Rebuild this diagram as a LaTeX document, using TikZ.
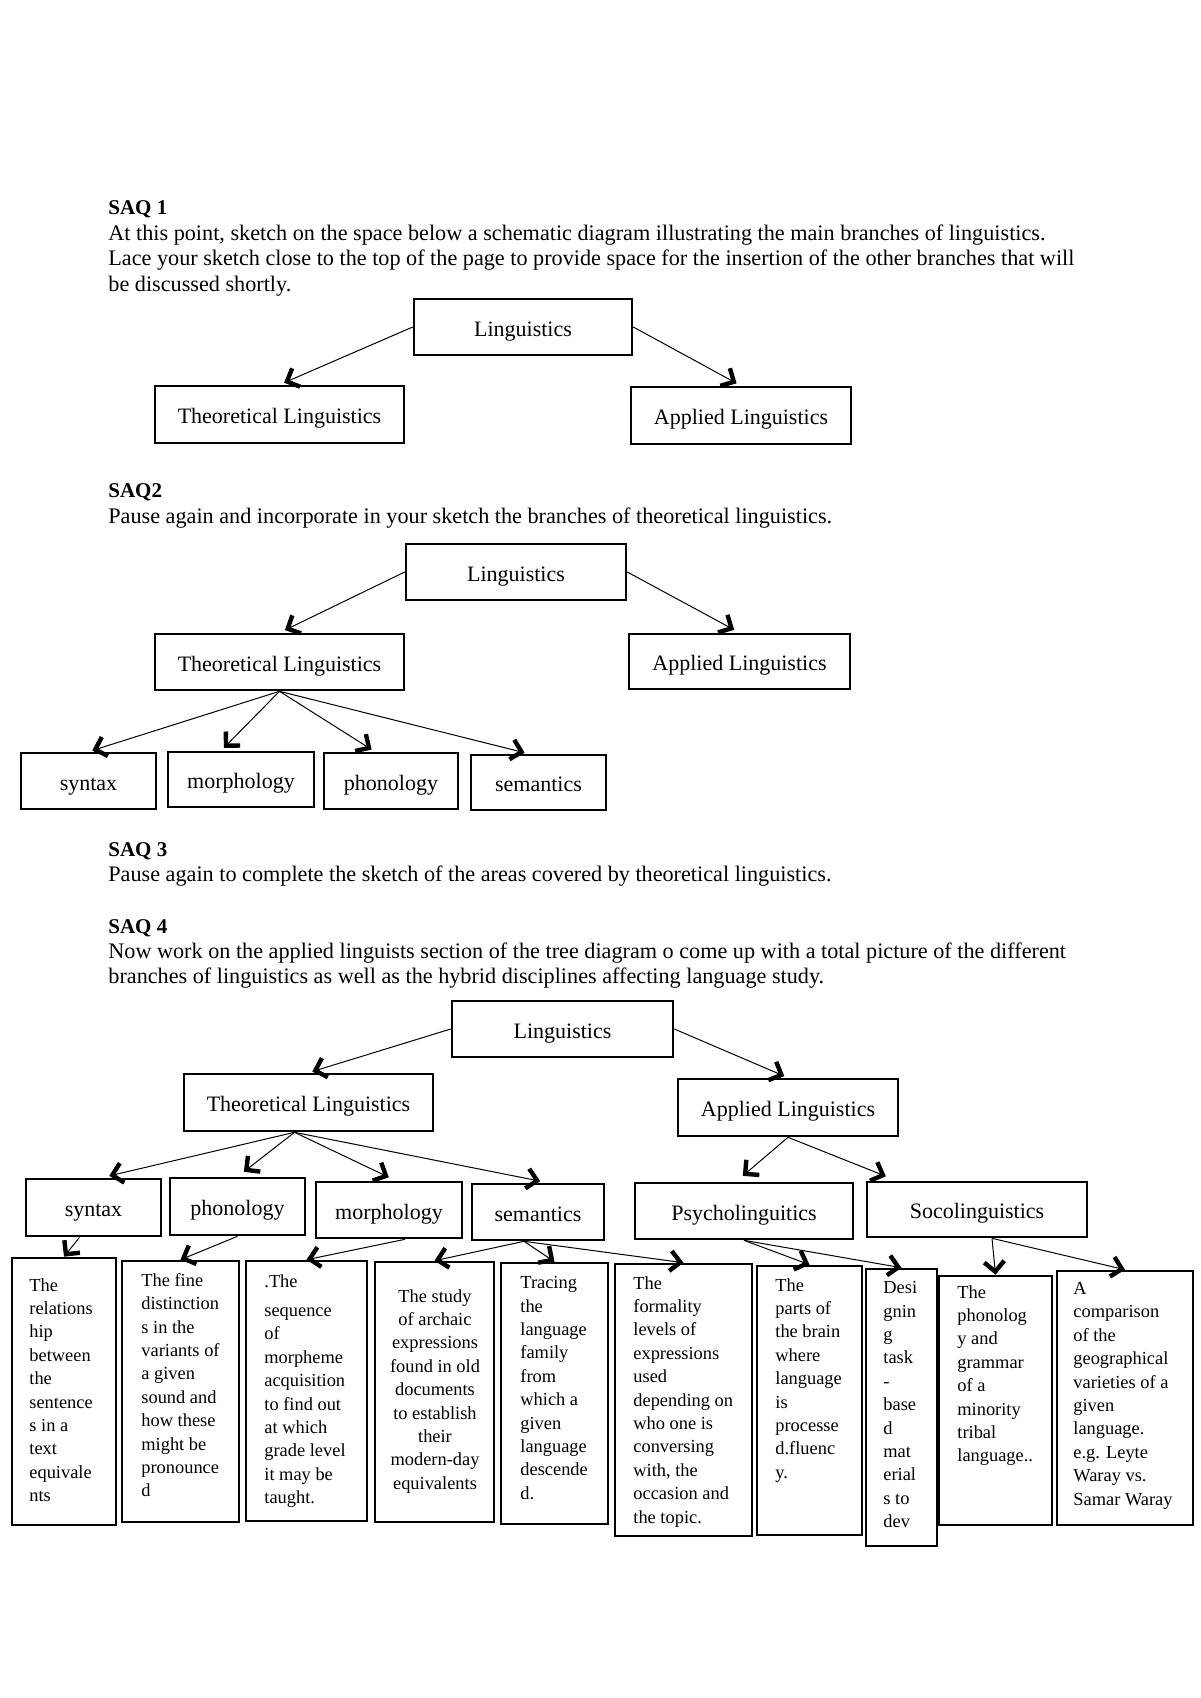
\documentclass[tikz,border=0pt]{standalone}
\usepackage{fontspec}
\setmainfont{Liberation Serif}
\usetikzlibrary{arrows.meta}
\tikzset{
  body/.style={inner sep=0, anchor=base west, font=\fontsize{11.1}{13}\selectfont},
  head/.style={inner sep=0, anchor=base west, font=\fontsize{10.5}{13}\selectfont\bfseries},
  lbox/.style={draw, line width=1.3pt, inner sep=0, text height=9pt, text depth=0pt, font=\fontsize{11}{13}\selectfont},
  dbox/.style={draw, line width=1.3pt, inner sep=0},
  dtxt/.style={inner sep=0, anchor=north west, align=left, font=\fontsize{9.2}{11.7}\selectfont},
  conn/.style={line width=0.5pt, -{Straight Barb[length=5pt,width=10pt,line width=2.2pt]}},
}
\newcommand\mkbox[7]{\node[#7, minimum width={(#4-#2)*0.5pt}, minimum height={(#5-#3)*0.5pt}] (#1) at ({(#2+#4)/2},{(#3+#5)/2}) {#6};}
\begin{document}
\begin{tikzpicture}[x=0.5pt,y=-0.5pt]
\useasboundingbox (0,0) rectangle (1200,1698);
% ---------- texts
\node[head] (h1) at (108,214) {SAQ 1};
\node[body] (t11) at (108,240) {At this point, sketch on the space below a schematic diagram illustrating the main branches of linguistics.};
\node[body] (t12) at (108,265) {Lace your sketch close to the top of the page to provide space for the insertion of the other branches that will};
\node[body] (t13) at (108,291) {be discussed shortly.};
\node[head] (h2) at (108,497) {SAQ2};
\node[body] (t21) at (108,523) {Pause again and incorporate in your sketch the branches of theoretical linguistics.};
\node[head] (h3) at (108,856) {SAQ 3};
\node[body] (t31) at (108,881) {Pause again to complete the sketch of the areas covered by theoretical linguistics.};
\node[head] (h4) at (108,933) {SAQ 4};
\node[body] (t41) at (108,958) {Now work on the applied linguists section of the tree diagram o come up with a total picture of the different};
\node[body] (t42) at (108,983) {branches of linguistics as well as the hybrid disciplines affecting language study.};
% ---------- SAQ1 diagram
\mkbox{L1}{414}{299}{632}{355}{Linguistics}{lbox}
\mkbox{T1}{155}{386}{404}{443}{Theoretical Linguistics}{lbox}
\mkbox{A1}{631}{387}{851}{444}{Applied Linguistics}{lbox}
\draw[conn, shorten >=2.5pt] (L1.west) -- (T1.north);
\draw[conn, shorten >=2.5pt] (L1.east) -- (A1.north);
% ---------- SAQ2 diagram
\mkbox{L2}{406}{544}{626}{600}{Linguistics}{lbox}
\mkbox{T2}{155}{634}{404}{690}{Theoretical Linguistics}{lbox}
\mkbox{A2}{629}{634}{850}{689}{Applied Linguistics}{lbox}
\mkbox{Sy2}{21}{753}{156}{809}{syntax}{lbox}
\mkbox{Mo2}{168}{752}{314}{807}{morphology}{lbox}
\mkbox{Ph2}{324}{753}{458}{809}{phonology}{lbox}
\mkbox{Se2}{471}{755}{606}{810}{semantics}{lbox}
\draw[conn, shorten >=3pt] (L2.west) -- (T2.north);
\draw[conn, shorten >=3pt] (L2.east) -- (A2.north);
\draw[conn, shorten >=2pt] (T2.south) -- (Sy2.north);
\draw[conn, shorten >=2pt] (T2.south) -- ([xshift=-10pt]Mo2.north);
\draw[conn, shorten >=2pt] (T2.south) -- ([xshift=-8pt]Ph2.north);
\draw[conn, shorten >=2pt] (T2.south) -- ([xshift=-5pt]Se2.north);
% ---------- SAQ4 diagram
\mkbox{L3}{452}{1001}{673}{1057}{Linguistics}{lbox}
\mkbox{T3}{184}{1074}{433}{1131}{Theoretical Linguistics}{lbox}
\mkbox{A3}{678}{1079}{898}{1136}{Applied Linguistics}{lbox}
\mkbox{Sy3}{26}{1179}{161}{1236}{syntax}{lbox}
\mkbox{Ph3}{170}{1178}{305}{1235}{phonology}{lbox}
\mkbox{Mo3}{316}{1182}{462}{1238}{morphology}{lbox}
\mkbox{Se3}{472}{1184}{604}{1240}{semantics}{lbox}
\mkbox{Ps3}{635}{1183}{853}{1239}{Psycholinguitics}{lbox}
\mkbox{So3}{867}{1182}{1087}{1237}{Socolinguistics}{lbox}
\draw[conn, shorten >=2pt] (L3.west) -- (T3.north);
\draw[conn, shorten >=2pt] (L3.east) -- (A3.north);
\coordinate (T3b) at ([xshift=-7pt]T3.south);
\draw[conn, shorten >=4pt] (T3b) -- ([xshift=4pt]Sy3.north);
\draw[conn, shorten >=4pt] (T3b) -- (Ph3.north);
\draw[conn, shorten >=4pt] (T3b) -- ([xshift=3.5pt]Mo3.north);
\draw[conn, shorten >=4pt] (T3b) -- ([xshift=5pt]Se3.north);
\draw[conn, shorten >=4.5pt] (A3.south) -- ([xshift=-4pt]Ps3.north);
\draw[conn, shorten >=6pt] (A3.south) -- ([xshift=-40pt]So3.north);
% ---------- description boxes
\mkbox{B1}{12}{1258}{116}{1525}{}{dbox}
\mkbox{B2}{122}{1261}{239}{1522}{}{dbox}
\mkbox{B3}{246}{1261}{367}{1521}{}{dbox}
\mkbox{B4}{375}{1262}{494}{1522}{}{dbox}
\mkbox{B5}{501}{1263}{608}{1524}{}{dbox}
\mkbox{B6}{615}{1264}{752}{1536}{}{dbox}
\mkbox{B7}{757}{1266}{862}{1535}{}{dbox}
\mkbox{B8}{866}{1269}{937}{1546}{}{dbox}
\mkbox{B9}{939}{1276}{1052}{1525}{}{dbox}
\mkbox{B10}{1057}{1271}{1193}{1525}{}{dbox}
\node[dtxt] (b1t) at (29,1278) {The\\relations\\hip\\between\\the\\sentence\\s in a\\text\\equivale\\nts};
\node[dtxt] (b2t) at (141,1273) {The fine\\distinction\\s in the\\variants of\\a given\\sound and\\how these\\might be\\pronounce\\d};
\node[dtxt] (b3t) at (264,1274) {.The\\[3pt]sequence\\of\\morpheme\\acquisition\\to find out\\at which\\grade level\\it may be\\taught.};
\node[dtxt, anchor=north, align=center] (b4t) at (435,1289) {The study\\of archaic\\expressions\\found in old\\documents\\to establish\\their\\modern-day\\equivalents};
\node[dtxt] (b5t) at (520,1276) {Tracing\\the\\language\\family\\from\\which a\\given\\language\\descende\\d.};
\node[dtxt] (b6t) at (633,1276) {The\\formality\\levels of\\expressions\\used\\depending on\\who one is\\conversing\\with, the\\occasion and\\the topic.};
\node[dtxt] (b7t) at (775,1278) {The\\parts of\\the brain\\where\\language\\is\\processe\\d.fluenc\\y.};
\node[dtxt] (b8t) at (883,1281) {Desi\\gnin\\g\\task\\-\\base\\d\\mat\\erial\\s to\\dev};
\node[dtxt] (b9t) at (957,1285) {The\\phonolog\\y and\\grammar\\of a\\minority\\tribal\\language..};
\node[dtxt] (b10t) at (1073,1282) {A\\comparison\\of the\\geographical\\varieties of a\\given\\language.\\e.g. Leyte\\Waray vs.\\Samar Waray};
% ---------- lower connectors
\draw[conn] ([xshift=-7pt]Sy3.south) -- (B1.north);
\draw[conn] (Ph3.south) -- (B2.north);
\draw[conn] ([xshift=8pt]Mo3.south) -- (B3.north);
\coordinate (Se3b) at ([xshift=-7pt]Se3.south);
\draw[conn] (Se3b) -- (B4.north);
\draw[conn] (Se3b) -- (B5.north);
\draw[conn] (Se3b) -- (B6.north);
\draw[conn] (Ps3.south) -- (B7.north);
\draw[conn] (Ps3.south) -- (B8.north);
\coordinate (So3b) at ([xshift=7.5pt]So3.south);
\draw[conn] (So3b) -- (B9.north);
\draw[conn] (So3b) -- (B10.north);
\end{tikzpicture}
\end{document}
